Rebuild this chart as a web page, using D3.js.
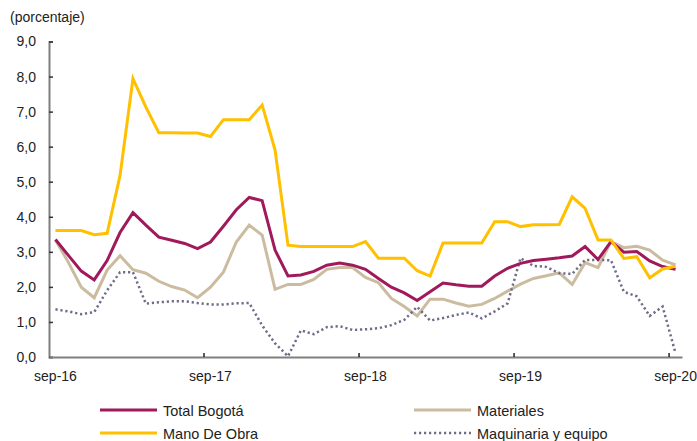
<!DOCTYPE html>
<html><head><meta charset="utf-8">
<script src="https://cdn.jsdelivr.net/npm/d3@7"></script>
<style>
body{margin:0;background:#fff;}
svg{font-family:"Liberation Sans",Arial,sans-serif;}
</style></head>
<body>
<svg id="c" width="697" height="441"></svg>
<script>
const monthNames = ["sep","oct","nov","dic","ene","feb","mar","abr","may","jun","jul","ago"];
const startYear = 16;
const nPoints = 49;
const tickLabels = ["sep-16","sep-17","sep-18","sep-19","sep-20"];
const yTicks = [0,1,2,3,4,5,6,7,8,9];

const totalBogota = [3.35,2.9,2.45,2.2,2.75,3.55,4.12,3.76,3.42,3.33,3.24,3.09,3.28,3.73,4.2,4.55,4.46,3.05,2.31,2.34,2.44,2.62,2.68,2.62,2.5,2.24,1.99,1.83,1.61,1.86,2.11,2.06,2.02,2.02,2.31,2.53,2.67,2.75,2.79,2.83,2.88,3.15,2.78,3.29,2.99,3.01,2.74,2.58,2.5];
const materiales = [3.34,2.7,1.99,1.69,2.48,2.89,2.49,2.39,2.16,2.01,1.91,1.69,1.99,2.42,3.28,3.76,3.48,1.93,2.07,2.07,2.21,2.5,2.55,2.55,2.27,2.12,1.67,1.44,1.17,1.65,1.65,1.54,1.45,1.5,1.67,1.88,2.08,2.24,2.32,2.4,2.07,2.69,2.55,3.29,3.12,3.16,3.05,2.76,2.63];
const manoDeObra = [3.61,3.61,3.61,3.49,3.53,5.18,7.94,7.13,6.4,6.4,6.39,6.39,6.29,6.77,6.77,6.77,7.19,5.9,3.19,3.15,3.15,3.15,3.15,3.15,3.29,2.82,2.82,2.82,2.46,2.31,3.25,3.25,3.25,3.25,3.86,3.86,3.72,3.77,3.77,3.78,4.57,4.24,3.34,3.34,2.81,2.86,2.26,2.51,2.59];
const maquinaria = [1.36,1.3,1.22,1.28,1.9,2.42,2.42,1.52,1.56,1.59,1.59,1.54,1.5,1.5,1.53,1.54,0.9,0.39,0.02,0.76,0.65,0.85,0.88,0.77,0.79,0.82,0.91,1.06,1.43,1.04,1.11,1.2,1.27,1.1,1.3,1.53,2.82,2.6,2.57,2.39,2.37,2.77,2.77,2.76,1.86,1.73,1.17,1.44,0.11];

const categories = d3.range(nPoints).map(i => monthNames[i % 12] + "-" + (startYear + Math.floor((i + 8) / 12)));

const seriesNames = ["Total Bogotá","Materiales","Mano De Obra","Maquinaria y equipo"];
const seriesValues = [totalBogota, materiales, manoDeObra, maquinaria];
const styles = [
  {color:"#A0195A", width:3, dash:null},
  {color:"#CBBCA0", width:3, dash:null},
  {color:"#FFC000", width:3, dash:null},
  {color:"#6F6B88", width:2.5, dash:"2.2,2.8"}
];

const svg = d3.select("#c");
const mLeft = 49, mRight = 682, mTop = 41.5, mBottom = 357;
const x = d3.scaleBand().domain(categories).range([mLeft, mRight]).padding(0);
const y = d3.scaleLinear().domain([0, 9]).range([mBottom, mTop]);
const cx = c => x(c) + x.bandwidth() / 2;

// title
svg.append("text").attr("x", 10).attr("y", 22).attr("font-size", 14).attr("fill", "#222").text("(porcentaje)");

// y axis
const yAxis = d3.axisLeft(y).tickValues(yTicks).tickFormat(d => d3.format(".1f")(d).replace(".", ",")).tickSize(-4).tickPadding(13);
const gy = svg.append("g").attr("transform", `translate(${mLeft},0)`).call(yAxis);
gy.select(".domain").attr("stroke", "#7F7F7F").attr("stroke-width", 2);
gy.selectAll(".tick line").attr("stroke", "#333").attr("stroke-width", 1.5);
gy.selectAll(".tick text").attr("font-size", 14).attr("fill", "#222").attr("font-family", "Liberation Sans, Arial, sans-serif");

// x axis
const tickCats = categories.filter(c => tickLabels.includes(c));
const xAxis = d3.axisBottom(x).tickValues(tickCats).tickSize(0).tickPadding(14);
const gx = svg.append("g").attr("transform", `translate(0,${mBottom})`).call(xAxis);
gx.select(".domain").attr("stroke", "#7F7F7F").attr("stroke-width", 2.2);
gx.selectAll(".tick text").attr("font-size", 14).attr("fill", "#222").attr("font-family", "Liberation Sans, Arial, sans-serif");
// tick marks at category boundaries
svg.append("g").selectAll("line").data(tickCats.filter((c, i) => i > 0)).join("line")
  .attr("x1", c => x(c)).attr("x2", c => x(c))
  .attr("y1", mBottom - 4).attr("y2", mBottom)
  .attr("stroke", "#222").attr("stroke-width", 1.5);

// lines
const line = d3.line().x((d, i) => cx(categories[i])).y(d => y(d));
const order = [1, 3, 0, 2];
order.forEach(k => {
  const p = svg.append("path").datum(seriesValues[k])
    .attr("d", line).attr("fill", "none")
    .attr("stroke", styles[k].color).attr("stroke-width", styles[k].width)
    .attr("stroke-linejoin", "miter");
  if (styles[k].dash) p.attr("stroke-dasharray", styles[k].dash);
});

// legend
const legendPos = [
  {lx:100, ly:410}, {lx:414, ly:410}, {lx:100, ly:433}, {lx:414, ly:433}
];
seriesNames.forEach((n, k) => {
  const g = svg.append("g");
  g.append("line").attr("x1", legendPos[k].lx).attr("x2", legendPos[k].lx + 57)
    .attr("y1", legendPos[k].ly).attr("y2", legendPos[k].ly)
    .attr("stroke", styles[k].color).attr("stroke-width", styles[k].width)
    .attr("stroke-dasharray", styles[k].dash);
  g.append("text").attr("x", legendPos[k].lx + 63).attr("y", legendPos[k].ly + 5.5)
    .attr("font-size", 14.5).attr("fill", "#222").text(n);
});
</script>
</body></html>
